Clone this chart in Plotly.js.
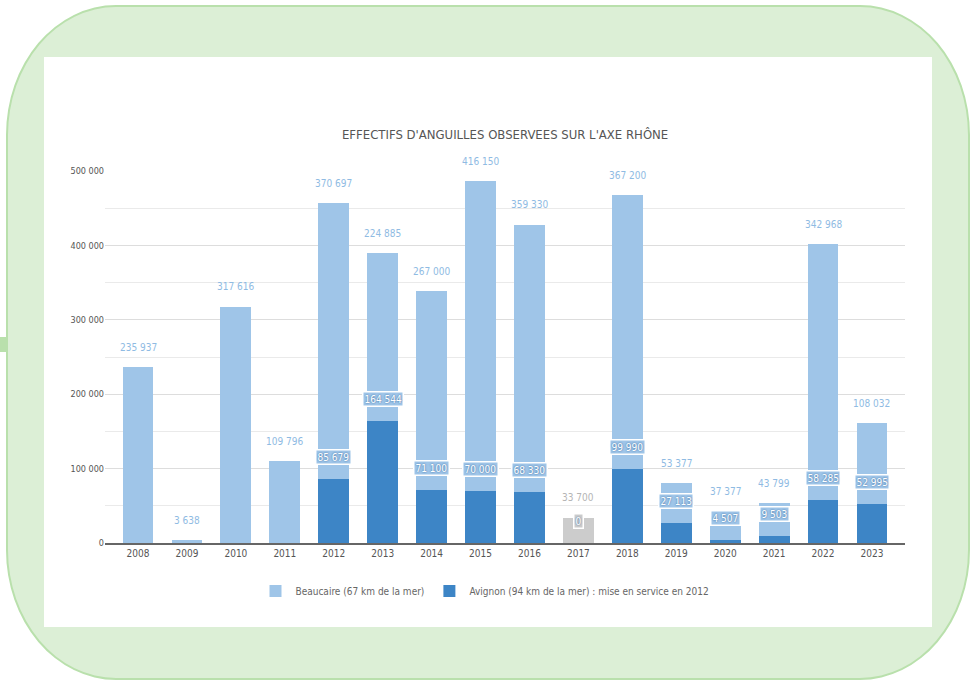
<!DOCTYPE html>
<html>
<head>
<meta charset="utf-8">
<script src="https://cdn.plot.ly/plotly-3.0.1.min.js"></script>
<style>
  html, body { margin: 0; padding: 0; background: #ffffff; width: 976px; height: 684px; overflow: hidden; }
  #green { position: absolute; left: 6px; top: 5px; width: 960px; height: 671px;
           background: #dcefd6; border: 2px solid #b9e0ac; border-radius: 110px / 130px; }
  #tab { position: absolute; left: 0px; top: 337px; width: 8px; height: 15px; background: #b9e0ac; }
  #white { position: absolute; left: 44px; top: 57px; width: 888px; height: 570px; background: #ffffff; }
  #chart { position: absolute; left: 0; top: 0; width: 976px; height: 684px; }
</style>
</head>
<body>
<div id="green"></div>
<div id="tab"></div>
<div id="white"></div>
<div id="chart"></div>
<script>
const years = ["2008","2009","2010","2011","2012","2013","2014","2015","2016","2017","2018","2019","2020","2021","2022","2023"];
const beaucaire = [235937, 3638, 317616, 109796, 370697, 224885, 267000, 416150, 359330, 33700, 367200, 53377, 37377, 43799, 342968, 108032];
const avignon = [null, null, null, null, 85679, 164544, 71100, 70000, 68330, 0, 99990, 27113, 4507, 9503, 58285, 52995];
const yTickVals = [0, 100000, 200000, 300000, 400000, 500000];
const yTickText = ["0", "100 000", "200 000", "300 000", "400 000", "500 000"];
const seriesNames = ["Beaucaire (67 km de la mer)", "Avignon (94 km de la mer) : mise en service en 2012"];
const chartTitle = "EFFECTIFS D'ANGUILLES OBSERVEES SUR L'AXE RHÔNE";
const greyYear = "2017";

const FONT = "DejaVu Sans Condensed, Liberation Sans Narrow, sans-serif";
const LIGHT = "#9fc5e8", DARK = "#3d85c6", GREY = "#cccccc";

function fmt(v) { return String(v).replace(/\B(?=(\d{3})+(?!\d))/g, " "); }

const beauColors = years.map(y => y === greyYear ? GREY : LIGHT);

const traces = [
  { type: "bar", name: seriesNames[1], x: years, y: avignon.map(v => v === null ? 0 : v),
    marker: { color: DARK }, hoverinfo: "skip" },
  { type: "bar", name: seriesNames[0], x: years, y: beaucaire,
    marker: { color: beauColors }, hoverinfo: "skip" }
];

const annotations = [];
years.forEach((yr, i) => {
  const total = beaucaire[i] + (avignon[i] || 0);
  annotations.push({
    x: i, y: total, xref: "x", yref: "y", text: fmt(beaucaire[i]),
    showarrow: false, yshift: 20,
    font: { family: FONT, size: 10, color: yr === greyYear ? "#b5b5b5" : "#8fbbe3" }
  });
  if (avignon[i] !== null) {
    annotations.push({
      x: i, y: avignon[i], xref: "x", yref: "y", text: fmt(avignon[i]),
      showarrow: false, yshift: 22,
      bgcolor: yr === greyYear ? GREY : LIGHT, bordercolor: "#ffffff", borderwidth: 1.5, borderpad: 1,
      font: { family: FONT, size: 10, color: "#ffffff", shadow: "0px 0px 2px #2c5f96" }
    });
  }
});

const layout = {
  width: 976, height: 684,
  margin: { l: 105, r: 71, t: 171, b: 141, pad: 0 },
  paper_bgcolor: "rgba(0,0,0,0)", plot_bgcolor: "rgba(0,0,0,0)",
  barmode: "stack", bargap: 0.37,
  showlegend: true,
  title: { text: chartTitle, x: 0.5175, xref: "container", y: 1 - 134/684, yref: "container",
           xanchor: "center", yanchor: "middle",
           font: { family: FONT, size: 13, color: "#555555" } },
  xaxis: { type: "category", range: [-0.675, 15.675], showgrid: false, zeroline: false,
           showline: true, linecolor: "#666666", linewidth: 1.5,
           ticks: "", tickfont: { family: FONT, size: 10, color: "#555555" }, fixedrange: true },
  yaxis: { range: [0, 500000], tickvals: yTickVals, ticktext: yTickText,
           showgrid: true, gridcolor: "#dddddd", gridwidth: 1, zeroline: false,
           minor: { dtick: 50000, showgrid: true, gridcolor: "#eaeaea", gridwidth: 1 },
           tickfont: { family: FONT, size: 9, color: "#555555" }, ticks: "", fixedrange: true },
  legend: { orientation: "h", x: 0.475, xanchor: "center", y: -0.129, yanchor: "middle",
            traceorder: "reversed", itemwidth: 30, font: { family: FONT, size: 10, color: "#666666" },
            bgcolor: "rgba(0,0,0,0)" },
  annotations: annotations
};

Plotly.newPlot("chart", traces, layout, { displayModeBar: false, staticPlot: true });
</script>
</body>
</html>
